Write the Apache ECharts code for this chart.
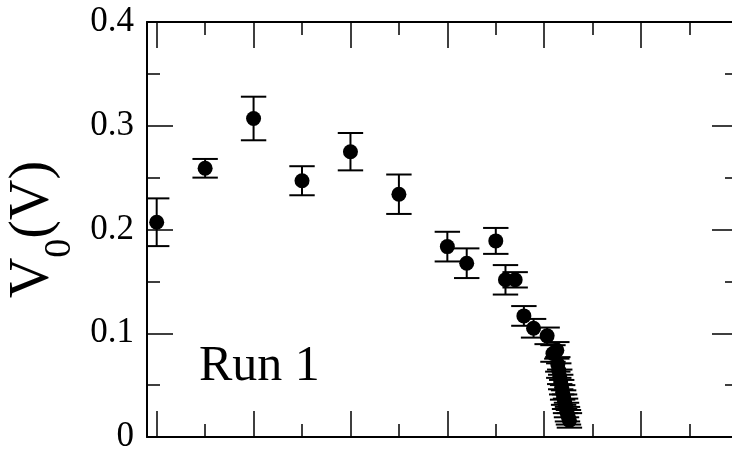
<!DOCTYPE html>
<html>
<head>
<meta charset="utf-8">
<script src="https://cdn.jsdelivr.net/npm/echarts@6/dist/echarts.min.js"></script>
<style>
html,body{margin:0;padding:0;background:#fff;}
#chart{width:732px;height:451px;}
</style>
</head>
<body>
<div id="chart"></div>
<script>
// ---- data ----
var xVals = [0, 0.5, 1.0, 1.5, 2.0, 2.5, 3.0, 3.2, 3.5, 3.6, 3.7, 3.79, 3.89, 4.03, 4.09, 4.13,
             4.14, 4.15, 4.16, 4.17, 4.18, 4.19, 4.20, 4.21, 4.22, 4.23, 4.24, 4.25, 4.26];
var yVals = [0.207, 0.259, 0.307, 0.247, 0.275, 0.234, 0.1835, 0.1675, 0.189, 0.1515, 0.1515, 0.1167, 0.1048, 0.0975, 0.0805, 0.0835,
             0.070, 0.064, 0.058, 0.053, 0.048, 0.043, 0.038, 0.034, 0.030, 0.026, 0.022, 0.019, 0.016];
var yErrs = [0.023, 0.009, 0.021, 0.014, 0.018, 0.019, 0.0143, 0.0143, 0.0125, 0.0142, 0.0074, 0.0095, 0.009, 0.008, 0.008, 0.008,
             0.007, 0.007, 0.007, 0.007, 0.007, 0.007, 0.007, 0.007, 0.007, 0.007, 0.007, 0.007, 0.007];
var yTickLabels = ['0', '0.1', '0.2', '0.3', '0.4'];
var xMajorTicks = [0, 1, 2, 3, 4, 5, 6];
var xMinorTicks = [0.5, 1.5, 2.5, 3.5, 4.5, 5.5];
var runLabel = 'Run 1';

// ---- build ----
var pts = xVals.map(function (x, i) { return [x, yVals[i]]; });
var errData = xVals.map(function (x, i) { return [x, yVals[i], yErrs[i]]; });

var FONT = '"Liberation Serif", "Times New Roman", serif';
var lineStyle = { color: '#000', width: 2 };

function xAx(pos, len, vals, showLine) {
  return {
    type: 'value', gridIndex: 0, position: pos, min: -0.1, max: 6,
    axisLine: { show: showLine, onZero: false, lineStyle: lineStyle },
    axisTick: { show: true, inside: true, length: len, customValues: vals, lineStyle: { color: '#000', width: 1.5 } },
    axisLabel: { show: false },
    splitLine: { show: false }
  };
}
function yAx(pos, labels) {
  return {
    type: 'value', gridIndex: 0, position: pos, min: 0, max: 0.4, interval: 0.1,
    axisLine: { show: true, onZero: false, lineStyle: lineStyle },
    axisTick: { show: true, inside: true, length: 26, lineStyle: { color: '#000', width: 1.5 } },
    minorTick: { show: true, splitNumber: 2, length: 13, lineStyle: { color: '#000', width: 1.5 } },
    axisLabel: labels ? {
      show: true, margin: 13, color: '#000', fontFamily: FONT, fontSize: 35,
      formatter: function (v) { return yTickLabels[Math.round(v * 10)]; }
    } : { show: false },
    splitLine: { show: false },
    minorSplitLine: { show: false }
  };
}

var yLeft = yAx('left', true);
yLeft.name = '{v|V}{s|0}{v|(V)}';
yLeft.nameLocation = 'middle';
yLeft.nameRotate = 90;
yLeft.nameGap = 67;
yLeft.nameTextStyle = {
  color: '#000', fontFamily: FONT,
  rich: {
    v: { fontSize: 56, lineHeight: 56, fontFamily: FONT, color: '#000', verticalAlign: 'top' },
    s: { fontSize: 38, lineHeight: 38, fontFamily: FONT, color: '#000', verticalAlign: 'top', padding: [36, 0, 0, 0] }
  }
};

var chart = echarts.init(document.getElementById('chart'), null, { renderer: 'canvas' });
chart.setOption({
  backgroundColor: '#fff',
  animation: false,
  grid: { left: 147, top: 22, width: 591, height: 415, containLabel: false, outerBoundsMode: 'none' },
  xAxis: [
    xAx('bottom', 26, xMajorTicks, true),
    xAx('bottom', 13, xMinorTicks, false),
    xAx('top', 26, xMajorTicks, true),
    xAx('top', 13, xMinorTicks, false)
  ],
  yAxis: [yLeft, yAx('right', false)],
  graphic: [{
    type: 'text', left: 199, top: 342, z: 10,
    style: { text: runLabel, font: '50px ' + FONT, fill: '#000' }
  }],
  series: [
    {
      type: 'custom', xAxisIndex: 0, yAxisIndex: 0, clip: true,
      encode: { x: 0, y: 1 },
      data: errData,
      renderItem: function (params, api) {
        var x = api.value(0), y = api.value(1), e = api.value(2);
        var hi = api.coord([x, y + e]);
        var lo = api.coord([x, y - e]);
        var hw = 12.7;
        var st = { stroke: '#000', lineWidth: 2 };
        return {
          type: 'group', children: [
            { type: 'line', shape: { x1: hi[0], y1: hi[1], x2: lo[0], y2: lo[1] }, style: st },
            { type: 'line', shape: { x1: hi[0] - hw, y1: hi[1], x2: hi[0] + hw, y2: hi[1] }, style: st },
            { type: 'line', shape: { x1: lo[0] - hw, y1: lo[1], x2: lo[0] + hw, y2: lo[1] }, style: st }
          ]
        };
      }
    },
    {
      type: 'scatter', xAxisIndex: 0, yAxisIndex: 0,
      data: pts, symbol: 'circle', symbolSize: 15,
      itemStyle: { color: '#000', opacity: 1 },
      emphasis: { disabled: true }
    }
  ]
});
</script>
</body>
</html>
